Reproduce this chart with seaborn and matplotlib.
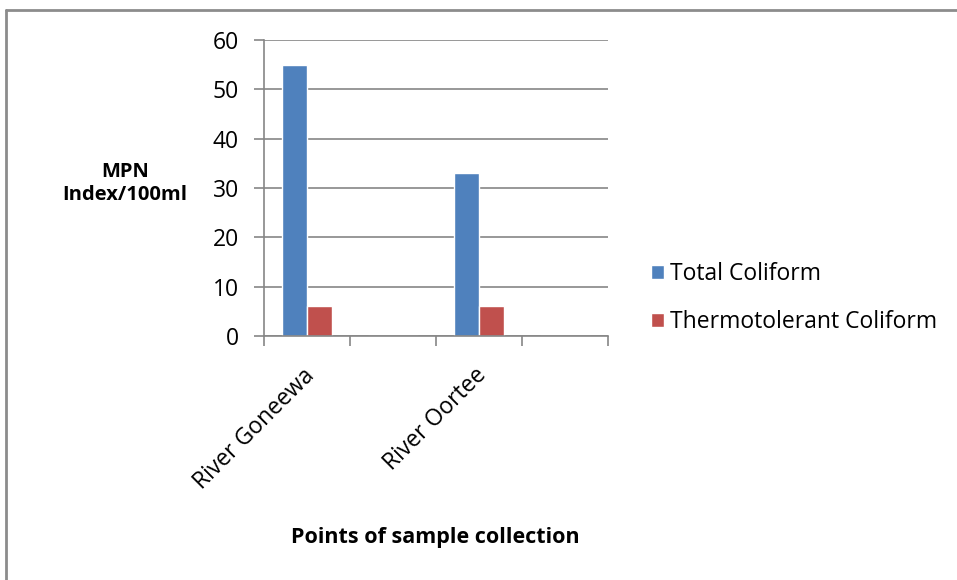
import matplotlib
matplotlib.use("Agg")
import matplotlib.pyplot as plt
import pandas as pd
import seaborn as sns
from matplotlib.lines import Line2D
from matplotlib.transforms import ScaledTranslation

# categories (Excel chart has two empty category slots)
sites = ["River Goneewa", " ", "River Oortee", "  "]
total_coliform = [55, 0, 33, 0]
thermo_coliform = [6, 0, 6, 0]
series_names = ["Total Coliform", "Thermotolerant Coliform"]
y_ticks = [0, 10, 20, 30, 40, 50, 60]

df = pd.DataFrame(
    {
        "site": sites * 2,
        "series": [series_names[0]] * len(sites) + [series_names[1]] * len(sites),
        "value": total_coliform + thermo_coliform,
    }
)

sns.set_theme(style="white")
plt.rcParams["font.family"] = ["Open Sans", "DejaVu Sans"]
plt.rcParams.update({"text.color": "black", "xtick.labelcolor": "black", "ytick.labelcolor": "black"})

grid_col = "#868686"
palette = {series_names[0]: "#4F81BD", series_names[1]: "#C0504D"}

fig = plt.figure(figsize=(9.57, 5.8), dpi=100)
ax = fig.add_axes([0.2759, 0.4207, 0.3594, 0.5103])

sns.barplot(
    data=df,
    x="site",
    y="value",
    hue="series",
    order=sites,
    hue_order=series_names,
    palette=palette,
    width=0.58,
    gap=0,
    saturation=1,
    errorbar=None,
    ax=ax,
)

ax.set_xlim(-0.5, len(sites) - 0.5)
ax.set_ylim(0, 60)
ax.set_yticks(y_ticks)
ax.yaxis.grid(True, color=grid_col, linewidth=1.2)
ax.set_axisbelow(True)

for side in ["top", "right"]:
    ax.spines[side].set_visible(False)
for side in ["left", "bottom"]:
    ax.spines[side].set_color(grid_col)
    ax.spines[side].set_linewidth(1.2)

# ticks between categories, labels at centers
ax.set_xticks(range(len(sites)))
ax.set_xticks([i - 0.5 for i in range(len(sites) + 1)], minor=True)
ax.set_xticklabels(sites, rotation=45, ha="right", va="center", rotation_mode="anchor")
ax.tick_params(axis="x", which="major", length=0, pad=26, labelsize=16.5, labelcolor="black")
ax.tick_params(axis="x", which="minor", length=7, width=1.2, color=grid_col, bottom=True, direction="out")
ax.tick_params(axis="y", length=7, width=1.2, color=grid_col, left=True, direction="out",
               labelsize=16.5, labelcolor="black", pad=11)
shift = ScaledTranslation(4 / 100, 0, fig.dpi_scale_trans)
for lab in ax.get_xticklabels():
    lab.set_transform(lab.get_transform() + shift)

ax.set_xlabel("")
ax.set_ylabel("")

fig.text(0.1306, 0.6836, "MPN\nIndex/100ml", ha="center", va="center", color="black",
         fontsize=14.5, fontweight="bold", multialignment="center", linespacing=1.15)
fig.text(0.4545, 0.074, "Points of sample collection", ha="center", va="center", color="black",
         fontsize=15.5, fontweight="bold")

leg = ax.legend(
    loc="center left",
    bbox_to_anchor=(0.680, 0.486),
    bbox_transform=fig.transFigure,
    frameon=False,
    fontsize=16.5,
    handlelength=0.58,
    handleheight=0.58,
    handletextpad=0.25,
    labelspacing=1.05,
    borderpad=0,
    borderaxespad=0,
)
for t in leg.get_texts():
    t.set_color("black")

# outer chart frame (top and left edges visible)
fig.add_artist(Line2D([0.006, 1.0], [0.982, 0.982], transform=fig.transFigure, color="#8c8c8c", linewidth=2))
fig.add_artist(Line2D([0.006, 0.006], [0.0, 0.982], transform=fig.transFigure, color="#8c8c8c", linewidth=2))

fig.savefig("out.png", dpi=100)
plt.close(fig)
